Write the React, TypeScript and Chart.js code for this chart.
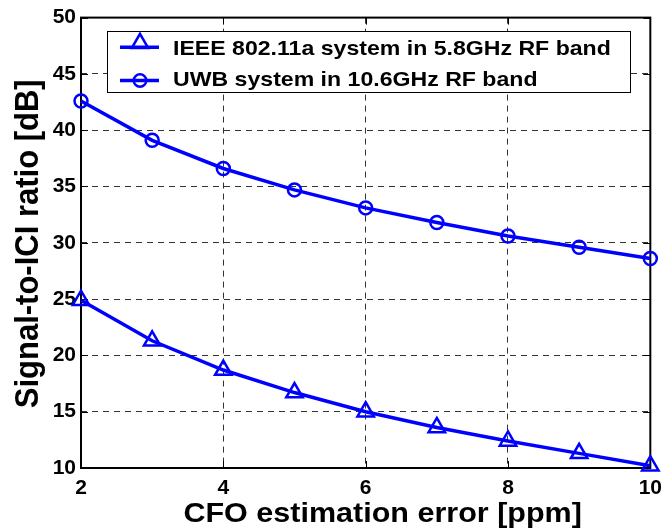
import React, { useEffect, useRef } from 'react';
import { Chart, registerables } from 'chart.js';

Chart.register(...registerables);

// ---- data ----
const cfoError = [2, 3, 4, 5, 6, 7, 8, 9, 10];
const ieeeSir = [24.9, 21.3, 18.7, 16.7, 15.0, 13.6, 12.4, 11.3, 10.2];
const uwbSir = [42.6, 39.1, 36.6, 34.7, 33.1, 31.8, 30.6, 29.6, 28.6];
const xTickValues = [2, 4, 6, 8, 10];
const yTickValues = [10, 15, 20, 25, 30, 35, 40, 45, 50];
const seriesNames = ['IEEE 802.11a system in 5.8GHz RF band', 'UWB system in 10.6GHz RF band'];
const seriesMarkers = ['triangle', 'circle'];
const xTitle = 'CFO estimation error [ppm]';
const yTitle = 'Signal-to-ICI ratio [dB]';

const FONT = '"Liberation Sans", Arial, Helvetica, sans-serif';
const BLUE = '#0000ff';
const STRETCH = 1.09;

function drawMarker(ctx: CanvasRenderingContext2D, style: string, x: number, y: number, r: number) {
  ctx.beginPath();
  if (style === 'triangle') {
    ctx.moveTo(x, y - r);
    ctx.lineTo(x + r * Math.sin((2 * Math.PI) / 3), y - r * Math.cos((2 * Math.PI) / 3));
    ctx.lineTo(x + r * Math.sin((4 * Math.PI) / 3), y - r * Math.cos((4 * Math.PI) / 3));
    ctx.closePath();
  } else {
    ctx.arc(x, y, r, 0, Math.PI * 2);
  }
  ctx.stroke();
}

const framePlugin = {
  id: 'matlabFrame',
  beforeDatasetsDraw(chart: any) {
    const { ctx, chartArea: a, scales } = chart;
    ctx.save();
    ctx.strokeStyle = '#000';
    ctx.lineWidth = 1;
    ctx.setLineDash([]);
    const tl = 7;
    ctx.beginPath();
    for (const v of yTickValues) {
      const py = Math.round(scales.y.getPixelForValue(v)) + 0.5;
      ctx.moveTo(a.left, py); ctx.lineTo(a.left + tl, py);
      ctx.moveTo(a.right, py); ctx.lineTo(a.right - tl, py);
    }
    for (const v of xTickValues) {
      const px = Math.round(scales.x.getPixelForValue(v)) + 0.5;
      ctx.moveTo(px, a.bottom); ctx.lineTo(px, a.bottom - tl);
      ctx.moveTo(px, a.top); ctx.lineTo(px, a.top + tl);
    }
    ctx.stroke();
    ctx.lineWidth = 2;
    ctx.strokeRect(a.left, a.top, a.right - a.left, a.bottom - a.top);
    ctx.restore();
  },
  afterDraw(chart: any) {
    const { ctx, chartArea: a } = chart;
    ctx.save();
    // axis titles (horizontally stretched like the reference)
    ctx.fillStyle = '#000';
    ctx.textBaseline = 'alphabetic';
    ctx.textAlign = 'center';
    ctx.save();
    ctx.translate((a.left + a.right) / 2 + 17, 521.5);
    ctx.scale(STRETCH, 1);
    ctx.font = `bold 28px ${FONT}`;
    ctx.fillText(xTitle, 0, 0);
    ctx.restore();
    ctx.save();
    ctx.translate(38, (a.top + a.bottom) / 2 + 1);
    ctx.rotate(-Math.PI / 2);
    ctx.scale(1, STRETCH);
    ctx.font = `bold 31px ${FONT}`;
    ctx.fillText(yTitle, 0, 0);
    ctx.restore();

    // legend
    const bx = 107.5, by = 31.5, bw = 523, bh = 61;
    ctx.fillStyle = '#fff';
    ctx.fillRect(bx, by, bw, bh);
    ctx.strokeStyle = '#000';
    ctx.lineWidth = 1;
    ctx.strokeRect(bx, by, bw, bh);
    const baselines = [54.7, 86.3];
    const lineY = [47.3, 80.5];
    seriesNames.forEach((name, i) => {
      const y = lineY[i];
      ctx.strokeStyle = BLUE;
      ctx.lineWidth = 3.5;
      ctx.beginPath();
      ctx.moveTo(120, y); ctx.lineTo(159, y);
      ctx.stroke();
      ctx.lineWidth = 2.5;
      if (seriesMarkers[i] === 'triangle') drawMarker(ctx, 'triangle', 140, y - 4, 9.5);
      else drawMarker(ctx, 'circle', 140, y, 6.3);
      ctx.fillStyle = '#000';
      ctx.save();
      ctx.translate(173, baselines[i]);
      ctx.scale(1.1, 1);
      ctx.font = `bold 21px ${FONT}`;
      ctx.textBaseline = 'alphabetic';
      ctx.textAlign = 'left';
      ctx.fillText(name, 0, 0);
      ctx.restore();
    });
    ctx.restore();
  },
};

export default function App() {
  const ref = useRef<HTMLCanvasElement | null>(null);
  useEffect(() => {
    document.body.style.margin = '0';
    const canvas = ref.current;
    if (!canvas) return;
    const mk = (vals: number[], i: number) => ({
      label: seriesNames[i],
      data: cfoError.map((x, k) => ({ x, y: vals[k] })),
      borderColor: BLUE,
      borderWidth: 3.5,
      pointStyle: seriesMarkers[i],
      pointRadius: seriesMarkers[i] === 'triangle' ? 9.5 : 6.5,
      pointBorderWidth: 2.5,
      pointBorderColor: BLUE,
      pointBackgroundColor: 'rgba(0,0,0,0)',
      tension: 0,
      clip: false as any,
      fill: false,
    });
    const chart = new Chart(canvas, {
      type: 'line',
      data: { datasets: [mk(ieeeSir, 0), mk(uwbSir, 1)] },
      options: {
        animation: false,
        responsive: false,
        devicePixelRatio: 1,
        layout: { padding: { left: 0, right: 14, top: 17, bottom: 0 } },
        plugins: { legend: { display: false }, tooltip: { enabled: false } },
        scales: {
          x: {
            type: 'linear',
            min: 2,
            max: 10,
            afterBuildTicks: (s: any) => { s.ticks = xTickValues.map((v) => ({ value: v })); },
            afterFit: (s: any) => { s.height = 64; },
            grid: { color: '#333', lineWidth: 1, drawTicks: false },
            border: { display: false, dash: [6, 5] },
            ticks: { color: '#000', font: { family: FONT, size: 21, weight: 'bold' }, padding: 8, maxRotation: 0 },
            title: { display: false, text: xTitle },
          },
          y: {
            type: 'linear',
            min: 10,
            max: 50,
            afterBuildTicks: (s: any) => { s.ticks = yTickValues.map((v) => ({ value: v })); },
            afterFit: (s: any) => { s.width = 81; },
            grid: { color: '#333', lineWidth: 1, drawTicks: false },
            border: { display: false, dash: [6, 5] },
            ticks: { color: '#000', font: { family: FONT, size: 21, weight: 'bold' }, padding: 5 },
            title: { display: false, text: yTitle },
          },
        },
      },
      plugins: [framePlugin],
    } as any);
    return () => chart.destroy();
  }, []);
  return (
    <div style={{ width: 670, height: 532, background: '#fff' }}>
      <canvas ref={ref} width={670} height={532} style={{ display: 'block' }} />
    </div>
  );
}
